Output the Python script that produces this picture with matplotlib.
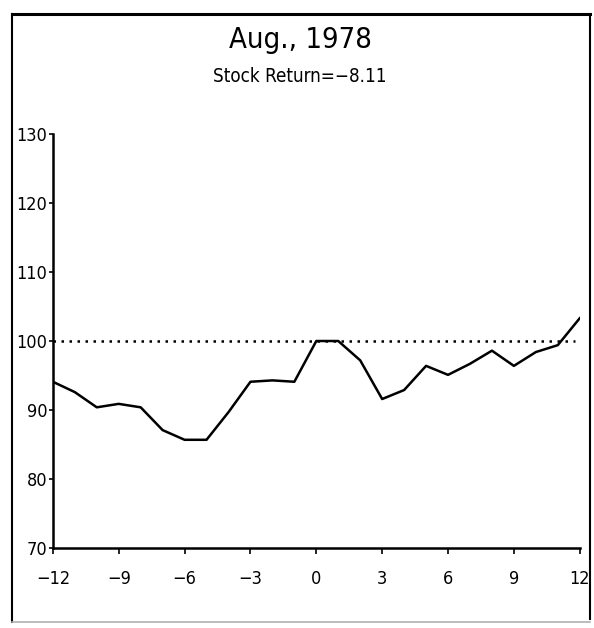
import matplotlib
matplotlib.use("Agg")
import matplotlib.pyplot as plt
from matplotlib.lines import Line2D

# months relative to event and index level
months = list(range(-12, 13))
index_level = [94.1, 92.6, 90.4, 90.9, 90.4, 87.1, 85.7, 85.7, 89.7, 94.1, 94.3, 94.1,
               100.0, 100.0, 97.2, 91.6, 92.9, 96.4, 95.1, 96.7, 98.6, 96.4, 98.4, 99.4,
               103.3]
baseline = 100
baseline_span = [-12, 11.8]
xticks = [-12, -9, -6, -3, 0, 3, 6, 9, 12]
yticks = [70, 80, 90, 100, 110, 120, 130]

title = "Aug., 1978"
subtitle = "Stock Return=\u22128.11"

# narrow face, closer to the old plotter lettering
plt.rcParams["font.family"] = ["DejaVu Sans"]
plt.rcParams["font.stretch"] = "condensed"

fig = plt.figure(figsize=(5.94, 6.28), dpi=100)
ax = fig.add_axes([0.089, 0.127, 0.887, 0.66])

ax.plot(baseline_span, [baseline, baseline], color="black", lw=1.8,
        linestyle=(0, (1, 2.2)))
ax.plot(months, index_level, color="black", lw=1.8, solid_joinstyle="round")

ax.set_xlim(-12, 12)
ax.set_ylim(70, 130)
ax.set_xticks(xticks)
ax.set_xticklabels([str(t).replace("-", "\u2212") for t in xticks], fontsize=13)
ax.set_yticks(yticks)
ax.set_yticklabels([str(t) for t in yticks], fontsize=13)
ax.tick_params(axis="x", direction="out", length=4, width=1.2, pad=12)
ax.tick_params(axis="y", direction="out", length=3, width=1.2, pad=1)
for side in ("top", "right"):
    ax.spines[side].set_visible(False)
for side in ("left", "bottom"):
    ax.spines[side].set_linewidth(1.8)

fig.text(0.505, 0.937, title, ha="center", va="center", fontsize=21)
fig.text(0.505, 0.878, subtitle, ha="center", va="center", fontsize=13.5)

# outer frame of the scanned figure
fig.add_artist(Line2D([0.02, 0.993], [0.978, 0.978], color="black", lw=2.2))
fig.add_artist(Line2D([0.02, 0.02], [0.978, 0.01], color="black", lw=1.5))
fig.add_artist(Line2D([0.993, 0.993], [0.978, 0.015], color="black", lw=1.5))
fig.add_artist(Line2D([0.02, 0.993], [0.01, 0.01], color="#b0b0b0", lw=1.2))

fig.savefig("out.png", dpi=100)
